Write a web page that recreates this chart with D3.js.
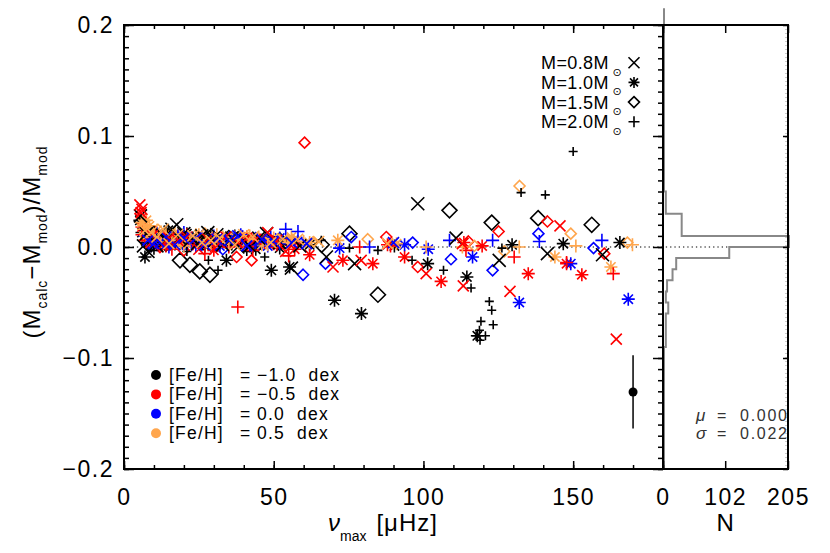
<!DOCTYPE html>
<html><head><meta charset="utf-8">
<script src="https://cdn.jsdelivr.net/npm/d3@7"></script>
<style>
body{margin:0;background:#fff}
svg{display:block}
text{font-family:"Liberation Sans",Arial,sans-serif;fill:#000}
</style>
</head><body>
<svg id="c" width="830" height="553"></svg>
<script>
// ---------------- DATA ----------------
const massLabels = ["M=0.8M", "M=1.0M", "M=1.5M", "M=2.0M"];
const massSymbols = ["x", "asterisk", "diamond", "plus"];
const fehValues = ["\u22121.0", "\u22120.5", "0.0", "0.5"];
const xTicks = [0, 50, 100, 150];
const yTicks = [-0.2, -0.1, 0.0, 0.1, 0.2];
const histTicks = [0, 102, 205];

// [nu_max, (Mcalc-Mmod)/Mmod, [Fe/H] index]
const m08 = [
 [5.5,0.028,0],[6.5,0.001,0],[8,-0.004,0],[10,0.008,0],[12,0.013,0],[14,0.006,0],[16,0.016,0],[17.6,0.020,0],[20,0.012,0],[22,0.006,0],[24.5,0.003,0],[26,0.010,0],[28,0.013,0],[30,0.005,0],[33,0.002,0],[36,0.008,0],[40,0.006,0],[42,0.001,0],[45,0.008,0],[47.6,0.012,0],[52,0.004,0],[55.9,-0.019,0],[58.7,0.001,0],[67.6,-0.009,0],[77,-0.015,0],[98.1,0.039,0],[110.9,0.008,0],[125.3,-0.012,0],[141.4,-0.006,0],[159.8,-0.007,0],
 [7.5,0.012,0],[11,0.001,0],[18.5,0.008,0],[31,0.011,0],[38,0.000,0],
 [5.3,0.038,1],[6,0.034,1],[5.7,0.031,1],[9,0.004,1],[13,0.002,1],[18,0.006,1],[25,-0.002,1],[32,0.004,1],[38,0.004,1],[44,0.007,1],[48,0.013,1],[54,-0.004,1],[69.8,-0.018,1],[79.2,-0.012,1],[100.9,-0.024,1],[113.3,-0.035,1],[113,0.003,1],[128.9,-0.040,1],[145.6,0.019,1],[164.4,-0.083,1],
 [9.5,0.010,1],[15,0.008,1],[21,0.009,1],[28,0.007,1],[34,0.009,1],[41,0.008,1],[51,0.006,1],
 [8,0.006,2],[12,0.004,2],[20,0.008,2],[27,0.002,2],[35,0.006,2],[41,0.001,2],[50,0.005,2],[61,0.003,2],[90,0.004,2],
 [10,0.003,2],[14,0.009,2],[17,0.002,2],[24,0.008,2],[31,0.007,2],[38,0.010,2],[46,0.007,2],[56,0.004,2],
 [7,0.015,3],[11,0.009,3],[15,0.003,3],[23,0.010,3],[29,0.006,3],[37,0.002,3],[43,0.009,3],[53,0.007,3],[65,0.005,3],[88,0.003,3],
 [9,0.013,3],[13,0.016,3],[18,0.011,3],[26,0.004,3],[32,0.008,3],[40,0.011,3],[49,0.004,3],[58,0.007,3]
];
const m10 = [
 [5.3,0.024,0],[7,-0.009,0],[9,0.003,0],[11,0.010,0],[14.8,0.015,0],[19,0.004,0],[23,0.008,0],[27,0.001,0],[31,0.006,0],[34.2,-0.012,0],[39,0.004,0],[44,-0.002,0],[49.2,-0.021,0],[52,-0.001,0],[55.3,-0.018,0],[62,0.002,0],[70.3,-0.048,0],[79.3,-0.060,0],[90.3,0.001,0],[101.4,-0.015,0],[114.5,-0.027,0],[118,-0.080,0],[129.6,0.002,0],[146.7,0.003,0],[165.6,0.004,0],
 [6,0.013,0],[8,0.007,0],[12.5,0.004,0],[16,0.009,0],[21,0.012,0],[25,0.005,0],[29,0.009,0],[37,0.010,0],[46,0.006,0],
 [6,0.018,1],[10,0.006,1],[14,0.001,1],[18,0.009,1],[24,0.004,1],[30,-0.003,1],[36,0.007,1],[42,0.001,1],[47,0.005,1],[57,-0.002,1],[62,-0.007,1],[73.1,-0.012,1],[83.1,-0.015,1],[88,0.002,1],[93.7,-0.009,1],[105.9,-0.031,1],[113.5,0.004,1],[119.6,0.001,1],[135,-0.024,1],[147.8,-0.015,1],[152.9,-0.025,1],
 [8,0.012,1],[12,0.010,1],[16,0.003,1],[21,0.006,1],[27,0.008,1],[33,0.005,1],[39,0.009,1],[50,0.003,1],
 [7,0.010,2],[11,0.002,2],[16,0.007,2],[21,0.003,2],[26,0.009,2],[32,0.001,2],[38,0.006,2],[45,0.003,2],[52,0.008,2],[72,-0.001,2],[93.7,0.002,2],[101.6,-0.002,2],[116.4,-0.009,2],[132,-0.050,2],[149.2,-0.015,2],[168.4,-0.047,2],
 [9,0.006,2],[13,0.005,2],[19,0.010,2],[24,0.001,2],[29,0.006,2],[35,0.008,2],[42,0.005,2],[48,0.001,2],[58,0.005,2],
 [6.5,0.016,3],[8.5,0.019,3],[9.5,0.012,3],[13,0.008,3],[17,0.013,3],[22,0.005,3],[28,0.009,3],[34,0.004,3],[40,0.008,3],[46,0.002,3],[55.9,0.009,3],[71.4,0.006,3],[91,0.003,3],[143.9,-0.009,3],[162.6,-0.018,3],
 [5.8,0.022,3],[7.5,0.024,3],[7,0.006,3],[11,0.015,3],[15,0.009,3],[19,0.003,3],[25,0.011,3],[31,0.005,3],[37,0.009,3],[43,0.006,3],[50,0.008,3],[62,0.004,3]
];
const m15 = [
 [18.7,-0.012,0],[22,-0.016,0],[25.3,-0.022,0],[28.7,-0.025,0],[31,0.003,0],[45,0.004,0],[66,0.002,0],[75.3,0.012,0],[84.8,-0.043,0],[108.7,0.033,0],[122.8,0.022,0],[138.3,0.026,0],[156.2,0.020,0],
 [10,0.008,0],[14,0.003,0],[35,0.008,0],[52,0.006,0],
 [5.5,0.030,1],[12,0.000,1],[20,-0.003,1],[37.6,-0.009,1],[42.6,-0.012,1],[50,0.003,1],[60.3,0.094,1],[87.6,0.009,1],[98.1,-0.018,1],[115,0.005,1],[125.1,0.014,1],[141.4,0.023,1],[160.4,-0.006,1],
 [8,0.005,1],[16,0.007,1],[26,0.004,1],[30,0.009,1],[45,0.007,1],[55,0.004,1],
 [9,0.001,2],[15,0.004,2],[25,0.006,2],[33,-0.002,2],[40,0.002,2],[44,0.008,2],[59.8,-0.025,2],[67.3,-0.015,2],[75.9,0.009,2],[96.4,0.004,2],[109.2,-0.011,2],[123.1,-0.021,2],[138.4,0.012,2],[156.8,-0.001,2],
 [12,0.009,2],[20,0.002,2],[29,0.008,2],[36,0.004,2],[51,0.003,2],
 [8,0.014,3],[14,0.010,3],[19,0.006,3],[27,0.012,3],[35,0.008,3],[47,0.006,3],[81.4,0.007,3],[117,0.001,3],[127,-0.004,3],[132.1,0.055,3],[149.2,0.012,3],[168.1,0.004,3],
 [11,0.004,3],[23,0.003,3],[31,0.007,3],[40,0.003,3],[55,0.006,3],[63,0.004,3]
];
const m20 = [
 [7,0.004,0],[10,-0.003,0],[13,0.006,0],[17,0.001,0],[21,-0.004,0],[28.2,-0.012,0],[31.4,-0.021,0],[36,0.001,0],[41,-0.004,0],[47,-0.009,0],[65.9,0.006,0],[75.3,-0.001,0],[84.8,-0.003,0],[96.2,-0.012,0],[106.7,-0.021,0],[115.9,-0.037,0],[117.6,-0.080,0],[118.7,-0.075,0],[118.9,-0.084,0],[119.2,-0.067,0],[120.7,-0.080,0],[122,-0.049,0],[122.8,-0.057,0],[123.3,-0.070,0],[126.2,-0.001,0],[132.6,0.049,0],[140.7,0.047,0],[150,0.086,0],
 [8.5,0.009,0],[15,0.008,0],[19,0.011,0],[25,0.006,0],[33,0.004,0],[44,0.003,0],[53,0.002,0],
 [6,0.011,1],[9,0.007,1],[12,0.002,1],[16,-0.002,1],[19,0.009,1],[23,0.003,1],[27,-0.006,1],[31,0.007,1],[35,0.000,1],[38,-0.054,1],[39,0.005,1],[43,-0.003,1],[51,0.002,1],[55,-0.008,1],[78.7,0.000,1],[89,0.001,1],[114.2,-0.003,1],[130.3,-0.009,1],[147.8,-0.014,1],[163.4,-0.024,1],
 [7,0.006,1],[10.5,0.013,1],[14,0.009,1],[21,0.011,1],[25,0.008,1],[29,0.001,1],[33,0.008,1],[41,0.009,1],[47,0.004,1],[58,0.003,1],
 [8,0.003,2],[11,0.012,2],[15,0.000,2],[18,0.010,2],[22,0.007,2],[26,0.002,2],[30,0.010,2],[34,0.005,2],[39,0.011,2],[44,0.004,2],[49,0.009,2],[54,0.016,2],[58.1,0.014,2],[82,0.000,2],[108.7,0.006,2],[123.1,0.006,2],[138.7,0.005,2],[159.6,0.006,2],
 [9.5,0.008,2],[13,0.004,2],[17,0.006,2],[20,0.013,2],[24,0.005,2],[28,0.006,2],[32,0.003,2],[37,0.008,2],[42,0.002,2],[47,0.006,2],[52,0.003,2],
 [7.5,0.008,3],[10,0.013,3],[12.5,0.005,3],[16,0.010,3],[20,0.001,3],[24,0.011,3],[29,0.003,3],[33,0.009,3],[37,0.006,3],[42,0.010,3],[48,0.002,3],[52,0.006,3],[60,0.005,3],[100.9,0.000,3],[113,0.000,3],[132,0.000,3],[150.9,0.001,3],[169.8,0.002,3],
 [6.5,0.020,3],[8.5,0.011,3],[11.5,0.007,3],[14,0.012,3],[18,0.006,3],[22,0.008,3],[27,0.007,3],[31,0.011,3],[35,0.004,3],[40,0.007,3],[45,0.009,3],[55,0.004,3]
];
// typical error bar
const errNu = [170];
const errVal = [-0.1306];
const errSize = [0.033];
// histogram of the residuals (bin lower edge, count), bin width 0.01
const histLow =   [-0.09,-0.08,-0.07,-0.06,-0.05,-0.04,-0.03,-0.02,-0.01,0.00,0.01,0.02,0.03,0.04];
const histCount = [3,    3,    3,    7,    3,    5,    14,   20,   107,  205, 29,  29,  3,   3];
const statMu = "0.000";
const statSigma = "0.022";

// ---------------- STYLE ----------------
const colors = ["#000000", "#ff0000", "#0000ff", "#ffa64d"];
const svg = d3.select("#c");
const x = d3.scaleLinear().domain([0, 180]).range([124, 663]);
const y = d3.scaleLinear().domain([-0.2, 0.2]).range([469, 25]);
const hx = d3.scaleLinear().domain([0, 205]).range([663, 788]);

function sym(type, s) {
  if (type === "x") return `M${-s},${-s}L${s},${s}M${-s},${s}L${s},${-s}`;
  if (type === "plus") return `M${-s},0L${s},0M0,${-s}L0,${s}`;
  if (type === "diamond") return `M0,${-s}L${s},0L0,${s}L${-s},0Z`;
  const a = s * 0.72;
  return `M0,${-s}L0,${s}M${-s},0L${s},0M${-a},${-a}L${a},${a}M${-a},${a}L${a},${-a}`;
}
function symSize(type, k) {
  if (type === "x") return k === 0 ? 6.5 : 5.5;
  if (type === "plus") return k === 0 ? 4.5 : 6.5;
  if (type === "diamond") return k === 0 ? 7.5 : 5.5;
  return 6.5;
}

// zero dotted line
svg.append("line").attr("x1", x(0)).attr("x2", hx(205)).attr("y1", y(0)).attr("y2", y(0))
  .attr("stroke", "#555").attr("stroke-width", 1.3).attr("stroke-dasharray", "1.3,3");

// points: drawn mass by mass, all metallicities in each
const groups = [m15, m10, m20, m08];
const groupSym = ["diamond", "asterisk", "plus", "x"];
const gp = svg.append("g");
groups.forEach((arr, gi) => {
  const t = groupSym[gi];
  for (let k = 0; k < 4; k++) {
    gp.selectAll(null).data(arr.filter(d => d[2] === k)).enter().append("path")
      .attr("transform", d => `translate(${x(d[0])},${y(d[1])})`)
      .attr("d", d => sym(t, symSize(t, k)))
      .attr("fill", "none").attr("stroke", colors[k]).attr("stroke-width", 1.6);
  }
});

// error bar
errNu.forEach((n, i) => {
  svg.append("line").attr("x1", x(n)).attr("x2", x(n))
    .attr("y1", y(errVal[i] + errSize[i])).attr("y2", y(errVal[i] - errSize[i]))
    .attr("stroke", "#000").attr("stroke-width", 1.5);
  svg.append("circle").attr("cx", x(n)).attr("cy", y(errVal[i])).attr("r", 4.5).attr("fill", "#000");
});

// histogram
const hp = [[0, 0.215]];
let prev = 0;
for (let i = histLow.length - 1; i >= 0; i--) {
  const lo = histLow[i], hi = +(lo + 0.01).toFixed(3);
  hp.push([prev, hi]); hp.push([histCount[i], hi]); hp.push([histCount[i], lo]);
  prev = histCount[i];
}
hp.push([0, histLow[0]]); hp.push([0, -0.2]);
svg.append("path").attr("d", d3.line().x(d => hx(d[0]) + 1).y(d => y(d[1]))(hp))
  .attr("fill", "none").attr("stroke", "#888").attr("stroke-width", 2);
svg.append("line").attr("x1", hx(205) - 2).attr("x2", hx(205) - 2).attr("y1", y(0.2)).attr("y2", y(-0.2))
  .attr("stroke", "#999").attr("stroke-width", 1).attr("stroke-dasharray", "1,3");

// stats text (clipped by panel)
svg.append("clipPath").attr("id", "hclip").append("rect").attr("x", 663).attr("y", 25).attr("width", 125).attr("height", 444);
const st = svg.append("g").attr("clip-path", "url(#hclip)");
[["\u03bc", statMu, 421], ["\u03c3", statSigma, 439]].forEach(r => {
  st.append("text").attr("x", 696).attr("y", r[2]).style("font-size", "17px").style("font-style", "italic").style("fill", "#333").text(r[0]);
  st.append("text").attr("x", 717).attr("y", r[2]).style("font-size", "16px").style("fill", "#333").text("=");
  st.append("text").attr("x", 740).attr("y", r[2]).style("font-size", "16px").style("fill", "#333")
    .attr("textLength", 47).attr("lengthAdjust", "spacing").text(r[1]);
});

// ---------------- AXES ----------------
function styleAxis(g) {
  g.select(".domain").remove();
  g.selectAll(".tick line").attr("stroke", "#000").attr("stroke-width", 1.5);
  g.selectAll("text").style("font-family", "'Liberation Sans',Arial,sans-serif").style("font-size", "23px")
    .style("letter-spacing", "1.5px").attr("fill", "#000");
}
const fmt = d => d3.format(".1f")(d);
const minorY = d3.range(-20, 21).map(v => v / 100);
svg.append("g").attr("transform", "translate(0,469)")
  .call(d3.axisBottom(x).tickValues(xTicks).tickSize(-8).tickSizeOuter(0).tickPadding(20).tickFormat(d3.format("d"))).call(styleAxis);
svg.append("g").attr("transform", "translate(0,469)")
  .call(d3.axisBottom(x).tickValues(d3.range(0, 181, 10)).tickSize(-4).tickSizeOuter(0).tickFormat("")).call(styleAxis);
svg.append("g").attr("transform", "translate(0,25)")
  .call(d3.axisTop(x).tickValues(xTicks).tickSize(-8).tickSizeOuter(0).tickFormat("")).call(styleAxis);
svg.append("g").attr("transform", "translate(0,25)")
  .call(d3.axisTop(x).tickValues(d3.range(0, 181, 10)).tickSize(-4).tickSizeOuter(0).tickFormat("")).call(styleAxis);
svg.append("g").attr("transform", "translate(124,0)")
  .call(d3.axisLeft(y).tickValues(yTicks).tickSize(-10).tickSizeOuter(0).tickPadding(10).tickFormat(fmt)).call(styleAxis);
svg.append("g").attr("transform", "translate(124,0)")
  .call(d3.axisLeft(y).tickValues(minorY).tickSize(-5).tickSizeOuter(0).tickFormat("")).call(styleAxis);
svg.append("g").attr("transform", "translate(663,0)")
  .call(d3.axisRight(y).tickValues(yTicks).tickSize(-10).tickSizeOuter(0).tickFormat("")).call(styleAxis);
svg.append("g").attr("transform", "translate(663,0)")
  .call(d3.axisRight(y).tickValues(minorY).tickSize(-5).tickSizeOuter(0).tickFormat("")).call(styleAxis);
svg.append("g").attr("transform", "translate(0,469)")
  .call(d3.axisBottom(hx).tickValues(histTicks).tickSize(-8).tickSizeOuter(0).tickPadding(20).tickFormat(d3.format("d"))).call(styleAxis);
svg.append("g").attr("transform", "translate(0,25)")
  .call(d3.axisTop(hx).tickValues(histTicks).tickSize(-8).tickSizeOuter(0).tickFormat("")).call(styleAxis);
svg.append("g").attr("transform", "translate(788,0)")
  .call(d3.axisLeft(y).tickValues(yTicks).tickSize(5).tickSizeOuter(0).tickFormat("")).call(styleAxis);

// frames
svg.append("rect").attr("x", 124).attr("y", 25).attr("width", 539).attr("height", 444)
  .attr("fill", "none").attr("stroke", "#000").attr("stroke-width", 2);
svg.append("rect").attr("x", 663).attr("y", 25).attr("width", 125).attr("height", 444)
  .attr("fill", "none").attr("stroke", "#000").attr("stroke-width", 2);

// axis titles
const yl = svg.append("text").attr("transform", "translate(40,242) rotate(-90)")
  .attr("text-anchor", "middle").style("font-size", "24px").style("letter-spacing", "1px");
yl.append("tspan").text("(M");
yl.append("tspan").attr("dy", 7).style("font-size", "14px").text("calc");
yl.append("tspan").attr("dy", -7).text("\u2212M");
yl.append("tspan").attr("dy", 7).style("font-size", "14px").text("mod");
yl.append("tspan").attr("dy", -7).text(")/M");
yl.append("tspan").attr("dy", 7).style("font-size", "14px").text("mod");

const xl = svg.append("text").attr("x", 328).attr("y", 531).style("font-size", "24px");
xl.append("tspan").style("font-style", "italic").text("\u03bd");
xl.append("tspan").attr("dy", 10).style("font-size", "14px").text("max");
xl.append("tspan").attr("dy", -10).attr("dx", 10).style("letter-spacing", "1px").text("[\u03bcHz]");
svg.append("text").attr("x", hx(102)).attr("y", 531).attr("text-anchor", "middle").style("font-size", "24px").text("N");

// mass legend (top right)
massLabels.forEach((lab, i) => {
  const cy = 62.7 + i * 19.7;
  svg.append("text").attr("x", 541).attr("y", cy + 6.5).style("font-size", "18px").style("letter-spacing", "0.4px").text(lab);
  svg.append("text").attr("x", 617).attr("y", cy + 13).attr("text-anchor", "middle")
    .style("font-family", "'DejaVu Sans',sans-serif").style("font-size", "11px").text("\u2299");
  svg.append("path").attr("transform", `translate(634,${cy})`).attr("d", sym(massSymbols[i], 5.5))
    .attr("fill", "none").attr("stroke", "#000").attr("stroke-width", 1.6);
});

// [Fe/H] legend (bottom left)
fehValues.forEach((v, i) => {
  const cy = 375 + i * 19.4;
  svg.append("circle").attr("cx", 156).attr("cy", cy).attr("r", 5).attr("fill", colors[i]);
  svg.append("text").attr("x", 169).attr("y", cy + 6).style("font-size", "17.5px").style("letter-spacing", "1.2px").text("[Fe/H]");
  svg.append("text").attr("x", 240).attr("y", cy + 6).style("font-size", "17.5px").text("=");
  svg.append("text").attr("x", 257).attr("y", cy + 6).style("font-size", "17.5px").style("letter-spacing", "1.2px").attr("xml:space", "preserve").text(v + "  dex");
});
</script>
</body></html>
